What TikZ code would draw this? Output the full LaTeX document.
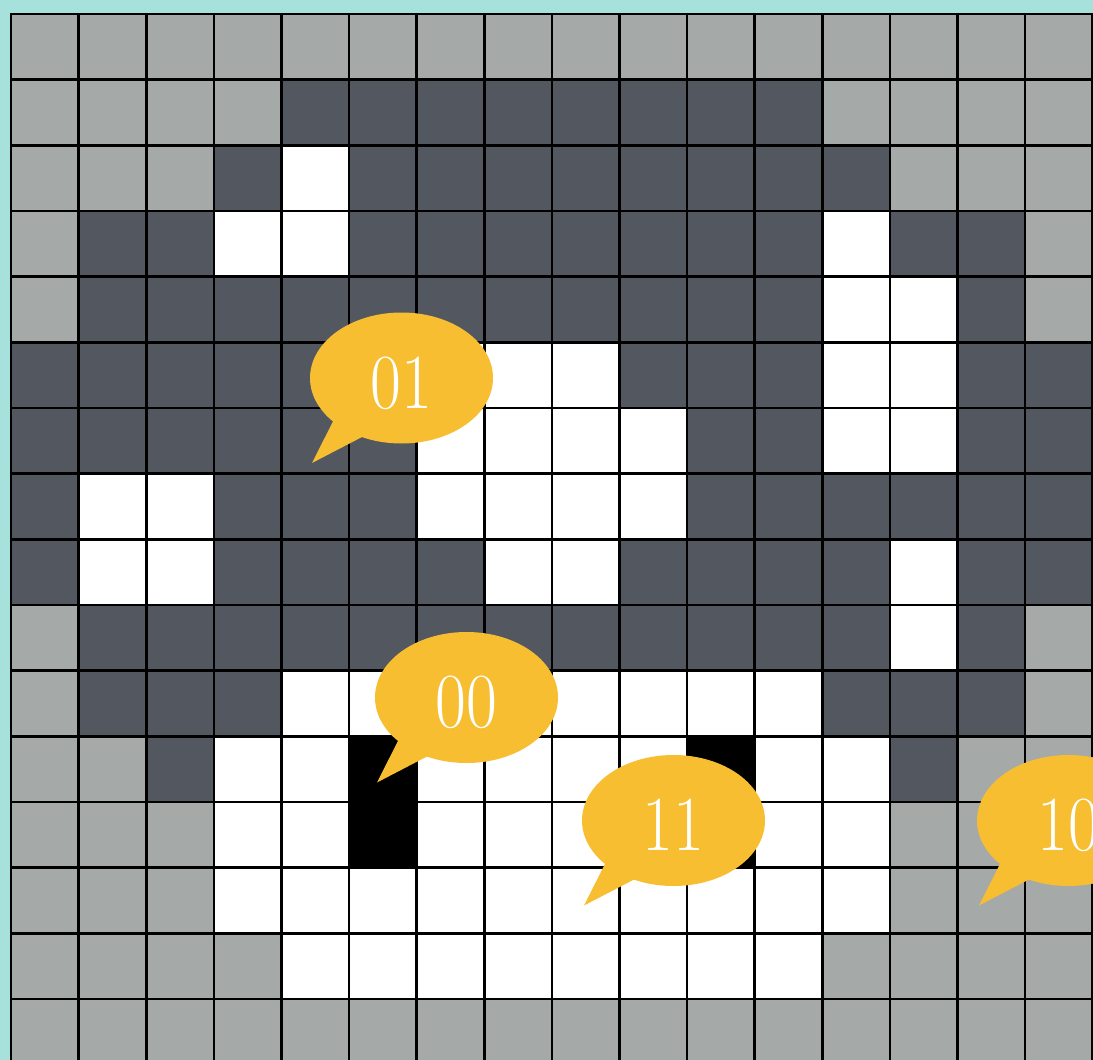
\documentclass[tikz,border=0pt]{standalone}
\usepackage{fontspec}
\definecolor{bgteal}{HTML}{A6E1DC}
\definecolor{cellL}{HTML}{A5A9A8}
\definecolor{cellD}{HTML}{535860}
\definecolor{bubblecol}{HTML}{F7BE32}
\newcommand{\bubblecall}[4]{%
  \fill[bubble] (#2,#3) ellipse [x radius=91.5, y radius=65.5];
  \fill[bubble] ({#2-63.25},{#3+33}) -- ({#2-89.5},{#3+85}) -- ({#2-29.5},{#3+53.8}) -- cycle;
  \node[bubtext] (#1) at (#2,{#3+30}) {#4};
}
\begin{document}
\begin{tikzpicture}[x=1pt,y=-1pt,
  cL/.style={fill=cellL}, cD/.style={fill=cellD}, cW/.style={fill=white}, cB/.style={fill=black},
  gridline/.style={line width=2.6pt, draw=black, line cap=rect},
  bubble/.style={fill=bubblecol},
  bubtext/.style={text=white, font=\fontsize{78}{80}\selectfont, xscale=0.86, anchor=base, inner sep=0pt}]
\useasboundingbox (0,0) rectangle (1093,1060);
\clip (0,0) rectangle (1093,1060);
\fill[bgteal] (0,0) rectangle (1093,1060);
\foreach \row [count=\j from 0] in {
  {L,L,L,L,L,L,L,L,L,L,L,L,L,L,L,L},
  {L,L,L,L,D,D,D,D,D,D,D,D,L,L,L,L},
  {L,L,L,D,W,D,D,D,D,D,D,D,D,L,L,L},
  {L,D,D,W,W,D,D,D,D,D,D,D,W,D,D,L},
  {L,D,D,D,D,D,D,D,D,D,D,D,W,W,D,L},
  {D,D,D,D,D,D,W,W,W,D,D,D,W,W,D,D},
  {D,D,D,D,D,D,W,W,W,W,D,D,W,W,D,D},
  {D,W,W,D,D,D,W,W,W,W,D,D,D,D,D,D},
  {D,W,W,D,D,D,D,W,W,D,D,D,D,W,D,D},
  {L,D,D,D,D,D,D,D,D,D,D,D,D,W,D,L},
  {L,D,D,D,W,W,W,W,W,W,W,W,D,D,D,L},
  {L,L,D,W,W,B,W,W,W,W,B,W,W,D,L,L},
  {L,L,L,W,W,B,W,W,W,W,B,W,W,L,L,L},
  {L,L,L,W,W,W,W,W,W,W,W,W,W,L,L,L},
  {L,L,L,L,W,W,W,W,W,W,W,W,L,L,L,L},
  {L,L,L,L,L,L,L,L,L,L,L,L,L,L,L,L}} {
  \foreach \t [count=\i from 0] in \row {
    \fill[c\t] ({11+67.6*\i},{14+65.67*\j}) rectangle +(67.6,65.67);
  }
}
\foreach \i in {0,...,16} \draw[gridline] ({11+67.6*\i},14) -- ({11+67.6*\i},1075);
\foreach \j in {0,...,16} \draw[gridline] (11,{14+65.67*\j}) -- (1100,{14+65.67*\j});
\bubblecall{b01}{401.5}{378}{01}
\bubblecall{b00}{466.5}{697.5}{00}
\bubblecall{b11}{673.5}{820.5}{11}
\bubblecall{b10}{1068.5}{820.5}{10}
\end{tikzpicture}
\end{document}
